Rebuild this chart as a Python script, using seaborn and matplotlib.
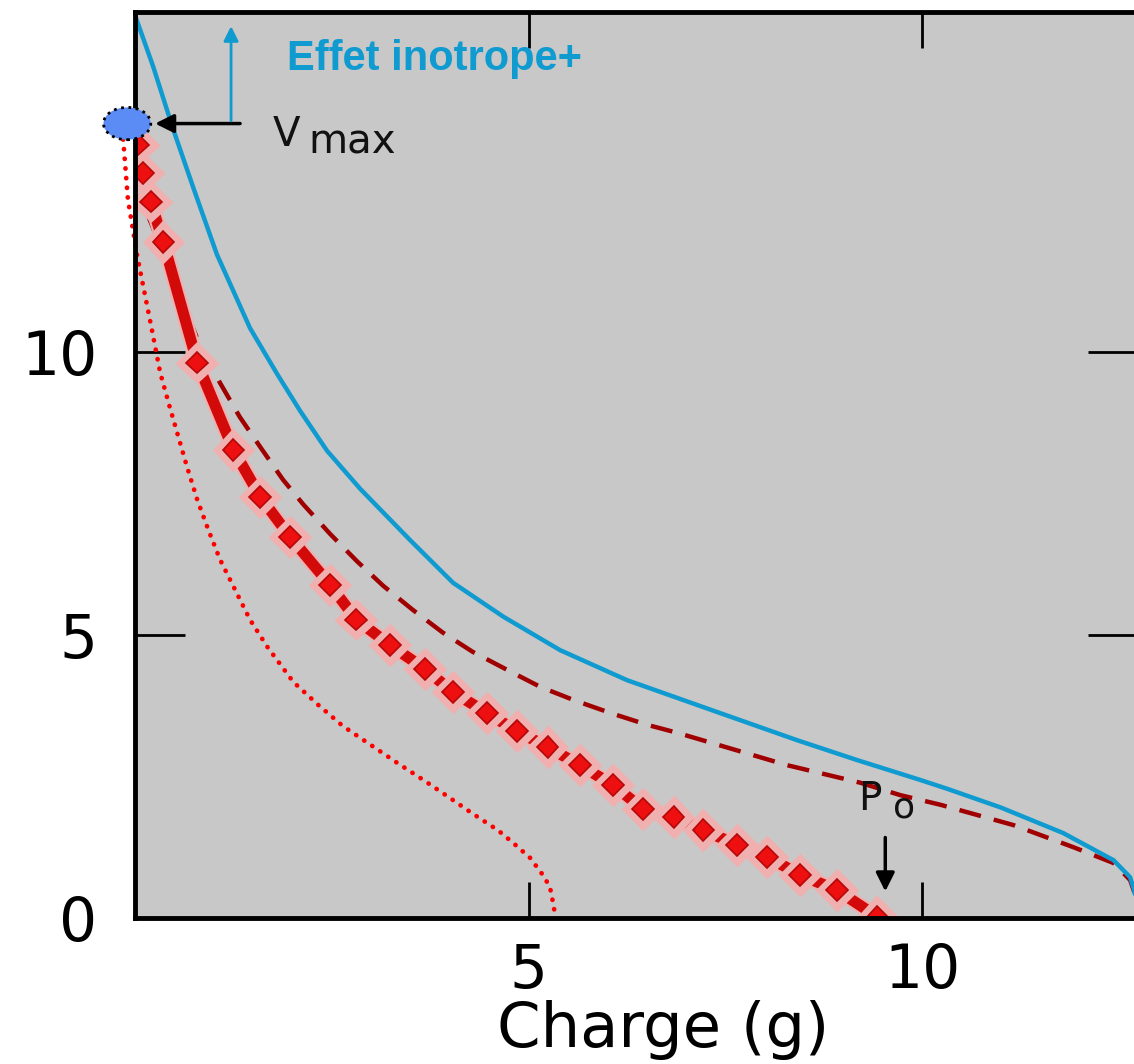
import matplotlib
matplotlib.use("Agg")
import matplotlib.pyplot as plt
import matplotlib.patheffects as pe
from matplotlib.patches import Ellipse
import seaborn as sns
import pandas as pd

# ------------------------------------------------------
# Données (charge en g, vitesse)
# ------------------------------------------------------
# courbe mesurée (trait rouge épais avec marqueurs)
mesure_x = [0.04, 0.10, 0.20, 0.36, 0.79, 1.25, 1.59, 1.97, 2.48, 2.81, 3.24, 3.68, 4.04,
            4.47, 4.85, 5.24, 5.65, 6.07, 6.45, 6.84, 7.22, 7.65, 8.03, 8.45, 8.92, 9.43]
mesure_y = [13.66, 13.16, 12.65, 11.94, 9.81, 8.27, 7.44, 6.73, 5.88, 5.27, 4.82, 4.40, 3.99,
            3.62, 3.30, 3.02, 2.70, 2.35, 1.93, 1.78, 1.55, 1.29, 1.08, 0.76, 0.49, 0.02]

# effet inotrope+ (courbe bleue)
bleu_x = [-0.04, 0.23, 0.48, 0.74, 1.04, 1.46, 1.80, 2.10, 2.44, 2.86, 3.49, 4.04, 4.68,
          5.40, 6.25, 7.43, 8.41, 9.17, 9.97, 10.32, 11.00, 11.79, 12.43, 12.64, 12.69, 12.72]
bleu_y = [16.10, 15.04, 13.95, 12.90, 11.72, 10.42, 9.62, 8.95, 8.25, 7.58, 6.68, 5.92, 5.32,
          4.73, 4.20, 3.62, 3.14, 2.79, 2.44, 2.28, 1.95, 1.50, 1.02, 0.72, 0.50, 0.30]

# courbe en tirets (rouge foncé)
tirets_x = [0.00, 0.15, 0.53, 0.83, 1.08, 1.33, 1.59, 1.88, 2.14, 2.48, 2.82, 3.15, 3.53,
            3.91, 4.29, 4.73, 5.15, 5.57, 6.04, 6.51, 6.89, 8.28, 8.79, 9.21, 9.72, 10.23,
            11.16, 11.92, 12.43, 12.64, 12.72]
tirets_y = [13.60, 12.46, 11.15, 10.09, 9.45, 8.85, 8.32, 7.74, 7.30, 6.78, 6.30, 5.87, 5.44,
            5.04, 4.70, 4.38, 4.08, 3.85, 3.62, 3.41, 3.27, 2.70, 2.53, 2.39, 2.17, 2.00,
            1.64, 1.25, 0.97, 0.67, 0.35]

# courbe en pointillés (rouge vif)
points_x = [-0.15, -0.09, 0.03, 0.22, 0.32, 0.44, 0.55, 0.66, 0.79, 0.93, 1.08, 1.27, 1.46,
            1.68, 2.01, 2.33, 2.64, 2.99, 3.33, 3.66, 4.00, 4.26, 4.61, 4.80, 5.02, 5.18,
            5.27, 5.31, 5.34]
points_y = [13.75, 12.69, 11.68, 10.35, 9.63, 9.03, 8.50, 7.97, 7.39, 6.86, 6.33, 5.80, 5.27,
            4.79, 4.17, 3.76, 3.39, 3.06, 2.74, 2.44, 2.12, 1.87, 1.55, 1.33, 1.06, 0.76,
            0.55, 0.27, 0.02]

vmax_x, vmax_y = -0.10, 14.03
xticks = [5, 10]
yticks = [0, 5, 10]

df_mesure = pd.DataFrame({"charge": mesure_x, "vitesse": mesure_y})
df_bleu = pd.DataFrame({"charge": bleu_x, "vitesse": bleu_y})
df_tirets = pd.DataFrame({"charge": tirets_x, "vitesse": tirets_y})
df_points = pd.DataFrame({"charge": points_x, "vitesse": points_y})

# ------------------------------------------------------
# Figure
# ------------------------------------------------------
sns.set_style("ticks")
plt.rcParams['font.family'] = ['DejaVu Sans']

fig = plt.figure(figsize=(11.34, 10.64), dpi=100)
ax = fig.add_axes([135 / 1134, 146 / 1064, 1003 / 1134, 906 / 1064])
ax.set_facecolor("#c9c8c8")

bleu = "#0f9ad0"

sns.lineplot(data=df_points, x="charge", y="vitesse", ax=ax, sort=False, estimator=None,
             color="#ff0000", linewidth=3.4, linestyle=(0, (0.05, 2.0)),
             dash_capstyle="round", clip_on=False)
sns.lineplot(data=df_tirets, x="charge", y="vitesse", ax=ax, sort=False, estimator=None,
             color="#a00000", linewidth=3.2, linestyle=(0, (5, 3)))
sns.lineplot(data=df_bleu, x="charge", y="vitesse", ax=ax, sort=False, estimator=None,
             color=bleu, linewidth=3.2)
sns.lineplot(data=df_mesure, x="charge", y="vitesse", ax=ax, sort=False, estimator=None,
             color="#d20a0a", linewidth=8, marker="D", markersize=11,
             markerfacecolor="#ee1010", markeredgecolor="#b50808", markeredgewidth=1.2,
             path_effects=[pe.Stroke(linewidth=11, foreground="#f0b0b0"), pe.Normal()])

# point Vmax
ax.add_patch(Ellipse((vmax_x, vmax_y), 0.6, 0.57, facecolor="#5b8cf5", edgecolor="black",
                     linestyle=":", linewidth=2, clip_on=False, zorder=5))

# flèches
ax.annotate("", xy=(0.22, vmax_y), xytext=(1.37, vmax_y),
            arrowprops=dict(arrowstyle="-|>", color="black", lw=2.5, mutation_scale=28))
ax.annotate("", xy=(1.22, 15.80), xytext=(1.22, vmax_y),
            arrowprops=dict(arrowstyle="-|>", color=bleu, lw=2, mutation_scale=22))
ax.annotate("", xy=(9.53, 0.42), xytext=(9.53, 1.47),
            arrowprops=dict(arrowstyle="-|>", color="black", lw=2.5, mutation_scale=28))

# textes
ax.text(1.75, 13.64, "V", fontsize=29, color="#111111", va="baseline", ha="left")
ax.text(2.20, 13.50, "max", fontsize=29, color="#111111", va="baseline", ha="left")
ax.text(9.18, 1.91, "P", fontsize=28, color="#111111", va="baseline", ha="left")
ax.text(9.63, 1.77, "o", fontsize=26, color="#111111", va="baseline", ha="left")
ax.text(1.93, 14.98, "Effet inotrope+", fontsize=30, color=bleu, fontweight="bold",
        family=["Liberation Sans", "DejaVu Sans"], va="baseline", ha="left")

# axes
ax.set_xlim(0, 12.74)
ax.set_ylim(0, 16.0)
ax.set_xticks(xticks)
ax.set_yticks(yticks)
ax.tick_params(axis="x", direction="in", length=26, width=2, labelsize=43, pad=17,
               top=True, colors="black")
ax.tick_params(axis="y", direction="in", length=36, width=2, labelsize=43, pad=27,
               right=True, colors="black")
for s in ax.spines.values():
    s.set_linewidth(3.5)
    s.set_color("black")

ax.set_xlabel("Charge (g)", fontsize=45, color="black")
ax.set_ylabel("")
ax.xaxis.set_label_coords(0.527, -0.090)

fig.savefig("out.png", dpi=100, facecolor="white")
